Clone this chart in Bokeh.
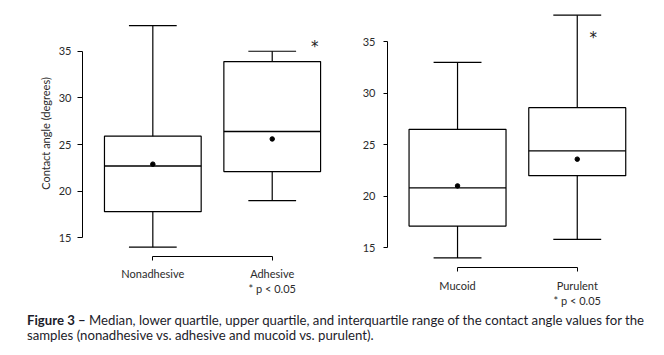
from bokeh.plotting import figure
from bokeh.models import Div, FixedTicker, Range1d
from bokeh.layouts import column, row
from bokeh.embed import file_html
from bokeh.resources import INLINE
from bokeh.core.properties import value

# ---------------- data ----------------
left_categories = ["Nonadhesive", "Adhesive"]
left_low = [14.0, 19.0]
left_q1 = [17.8, 22.1]
left_median = [22.7, 26.4]
left_q3 = [25.9, 33.9]
left_high = [37.75, 35.0]
left_mean = [22.9, 25.6]

right_categories = ["Mucoid", "Purulent"]
right_low = [14.0, 15.8]
right_q1 = [17.1, 22.0]
right_median = [20.8, 24.4]
right_q3 = [26.5, 28.6]
right_high = [33.0, 37.6]
right_mean = [21.0, 23.6]

y_ticks = [15, 20, 25, 30, 35]
y_label = "Contact angle (degrees)"
significance_note = "* p < 0.05"
caption_bold = "Figure 3 –"
caption_line1 = "Median, lower quartile, upper quartile, and interquartile range of the contact angle values for the"
caption_line2 = "samples (nonadhesive vs. adhesive and mucoid vs. purulent)."

FONT = "Lato"
TEXT_COLOR = "#2b2b2b"
BOX_W = 0.81
CAP_W = 0.40


def make_panel(cats, low, q1, med, q3, high, mean, width, height, border_left,
               border_bottom, x_start, x_end, y_start, y_end, star_pos,
               ylabel=None, tick_out_y=5, y_standoff=6, x_standoff=6):
    xs = list(range(1, len(cats) + 1))
    p = figure(width=width, height=height, output_backend="svg",
               toolbar_location=None,
               x_range=Range1d(x_start, x_end), y_range=Range1d(y_start, y_end),
               min_border_left=border_left, min_border_right=5,
               min_border_top=10, min_border_bottom=border_bottom)
    p.frame_align = False
    p.outline_line_color = None
    p.xgrid.visible = False
    p.ygrid.visible = False
    p.background_fill_color = "white"
    p.border_fill_color = "white"

    # boxes
    p.quad(left=[x - BOX_W / 2 for x in xs], right=[x + BOX_W / 2 for x in xs],
           bottom=q1, top=q3, fill_color="white", line_color="black",
           line_width=1.2)
    # whiskers
    p.segment(x0=xs, y0=q3, x1=xs, y1=high, line_color="black", line_width=1.2)
    p.segment(x0=xs, y0=low, x1=xs, y1=q1, line_color="black", line_width=1.2)
    p.segment(x0=[x - CAP_W / 2 for x in xs], y0=high,
              x1=[x + CAP_W / 2 for x in xs], y1=high,
              line_color="black", line_width=1.2)
    p.segment(x0=[x - CAP_W / 2 for x in xs], y0=low,
              x1=[x + CAP_W / 2 for x in xs], y1=low,
              line_color="black", line_width=1.2)
    # medians
    p.segment(x0=[x - BOX_W / 2 for x in xs], y0=med,
              x1=[x + BOX_W / 2 for x in xs], y1=med,
              line_color="black", line_width=1.3)
    # means
    p.scatter(x=xs, y=mean, size=4.5, color="black")
    # significance star
    p.text(x=[star_pos[0]], y=[star_pos[1]], text=["*"],
           text_font=value("DejaVu Sans"), text_font_size="15px",
           text_color="#222222", text_align="center", text_baseline="middle",
           y_offset=3)

    # y axis
    ya = p.yaxis[0]
    ya.ticker = FixedTicker(ticks=y_ticks)
    ya.bounds = (min(y_ticks), max(y_ticks))
    ya.major_tick_out = tick_out_y
    ya.major_tick_in = 0
    ya.minor_tick_line_color = None
    ya.axis_line_color = "black"
    ya.major_tick_line_color = "black"
    ya.major_label_text_font = FONT
    ya.major_label_text_font_size = "11px"
    ya.major_label_text_color = TEXT_COLOR
    ya.major_label_standoff = y_standoff
    if ylabel:
        ya.axis_label = ylabel
        ya.axis_label_text_font = FONT
        ya.axis_label_text_font_size = "11px"
        ya.axis_label_text_font_style = "normal"
        ya.axis_label_text_color = TEXT_COLOR
        ya.axis_label_standoff = 4

    # x axis as bracket
    xa = p.xaxis[0]
    xa.ticker = FixedTicker(ticks=xs)
    xa.bounds = (xs[0], xs[-1])
    xa.major_tick_out = 4
    xa.major_tick_in = 0
    xa.minor_tick_line_color = None
    xa.axis_line_color = "black"
    xa.major_tick_line_color = "black"
    labels = {x: c for x, c in zip(xs, cats)}
    labels[xs[-1]] = cats[-1] + "\n" + significance_note
    xa.major_label_overrides = labels
    xa.major_label_text_font = FONT
    xa.major_label_text_font_size = "11px"
    xa.major_label_text_color = TEXT_COLOR
    xa.major_label_text_line_height = 1.2
    xa.major_label_standoff = x_standoff
    return p


p1 = make_panel(left_categories, left_low, left_q1, left_median, left_q3,
                left_high, left_mean, width=340, height=310, border_left=82,
                border_bottom=54, x_start=0.411, x_end=2.530,
                y_start=13.0, y_end=39.37, star_pos=(2.357, 35.8),
                ylabel=y_label, tick_out_y=5, y_standoff=6, x_standoff=6)

p2 = make_panel(right_categories, right_low, right_q1, right_median, right_q3,
                right_high, right_mean, width=324, height=310, border_left=47,
                border_bottom=42, x_start=0.415, x_end=2.687,
                y_start=13.07, y_end=38.05, star_pos=(2.134, 35.68),
                ylabel=None, tick_out_y=4, y_standoff=8, x_standoff=7)

caption_html = (
    '<div style="font-family: Lato, sans-serif; font-size: 13.2px; line-height: 15px; '
    'color: #1c1c2a; white-space: nowrap; padding: 3px 0 0 27px;">'
    '<b>' + caption_bold + '</b> ' + caption_line1 + '<br>' + caption_line2 + '</div>'
)
cap = Div(text=caption_html, width=664, height=45, margin=(0, 0, 0, 0))

layout = column(row(p1, p2, spacing=0), cap, spacing=0)

open("out.html", "w").write(file_html(layout, INLINE))
